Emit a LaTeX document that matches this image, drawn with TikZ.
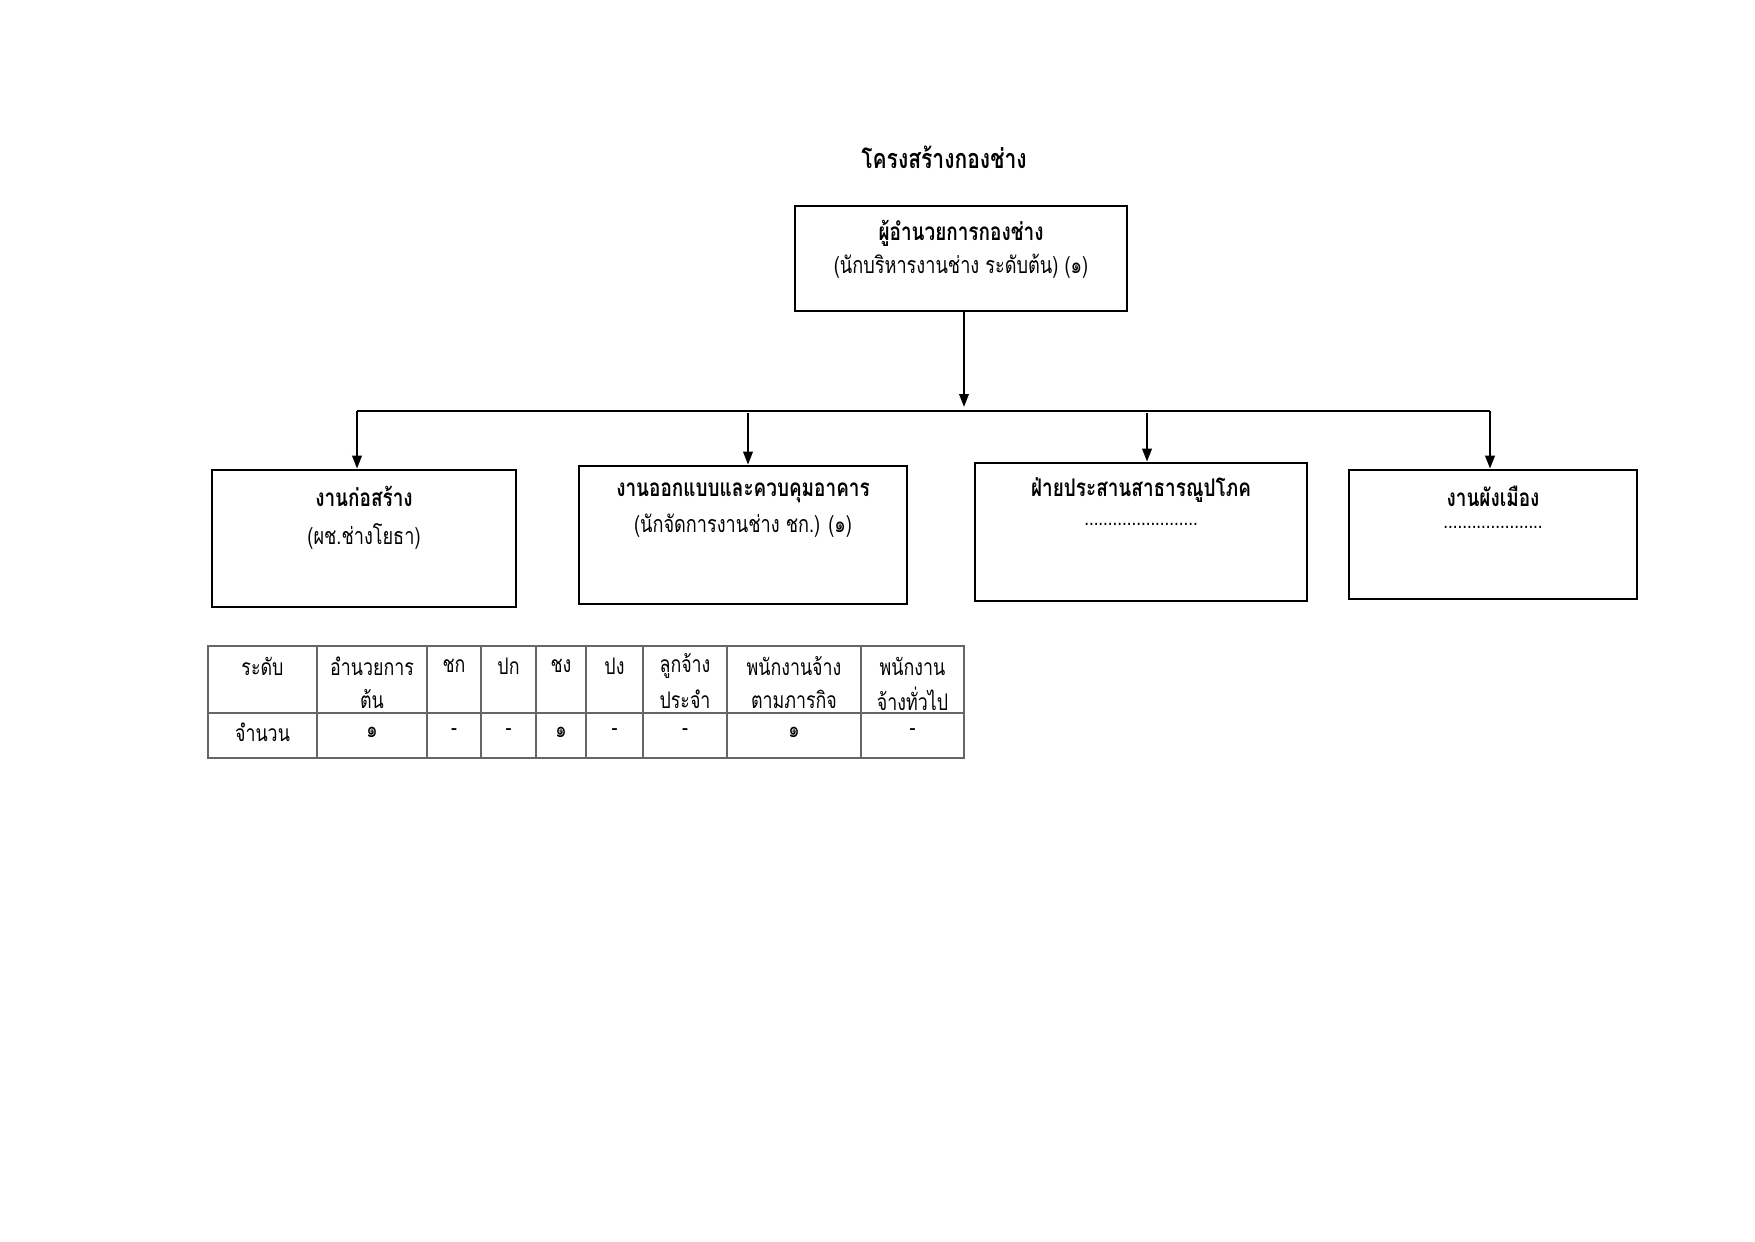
\documentclass[tikz,border=0pt]{standalone}
\usepackage{fontspec}
\setmainfont[Script=Thai,FakeStretch=0.78]{Loma}
\usetikzlibrary{arrows.meta}
\begin{document}
\begin{tikzpicture}[x=0.16923mm,y=-0.16923mm,
  box/.style={draw,line width=1.3pt,rectangle,inner sep=0pt},
  arr/.style={line width=1.1pt,-{Triangle[length=2.2mm,width=1.6mm]}},
  ln/.style={line width=1.1pt},
  ttl/.style={font=\fontsize{13}{15}\selectfont\bfseries},
  hd/.style={font=\fontsize{11.7}{14}\selectfont\bfseries},
  sb/.style={font=\fontsize{11.2}{14}\selectfont},
  dt/.style={font=\fontsize{10.5}{14}\selectfont},
  tb/.style={font=\fontsize{11}{13}\selectfont},
  grid/.style={draw=black!60,line width=0.6pt}]
\useasboundingbox (0,0) rectangle (1755,1241);
\node[ttl] (title) at (944,157) {โครงสร้างกองช่าง};
% boxes
\node[box,minimum width=332*0.16923mm,minimum height=105*0.16923mm] (top) at (961,258.5) {};
\node[box,minimum width=304*0.16923mm,minimum height=137*0.16923mm] (b1) at (364,538.5) {};
\node[box,minimum width=328*0.16923mm,minimum height=138*0.16923mm] (b2) at (743,535) {};
\node[box,minimum width=332*0.16923mm,minimum height=138*0.16923mm] (b3) at (1141,532) {};
\node[box,minimum width=288*0.16923mm,minimum height=129*0.16923mm] (b4) at (1493,534.5) {};
% texts
\node[hd] (topa) at (961,233) {ผู้อำนวยการกองช่าง};
\node[sb] (topb) at (961,266) {(นักบริหารงานช่าง ระดับต้น) (๑)};
\node[hd] (b1a) at (364,496) {งานก่อสร้าง};
\node[sb] (b1b) at (364,536) {(ผช.ช่างโยธา)};
\node[hd] (b2a) at (743,493) {งานออกแบบและควบคุมอาคาร};
\node[sb] (b2b) at (743,526) {(นักจัดการงานช่าง ชก.) (๑)};
\node[hd] (b3a) at (1141,490) {ฝ่ายประสานสาธารณูปโภค};
\node[dt] (b3b) at (1141,524) {........................};
\node[hd] (b4a) at (1493,496) {งานผังเมือง};
\node[dt] (b4b) at (1493,527) {.....................};
% connectors
\coordinate (j) at (964,407);
\coordinate (hl) at (357,411);
\coordinate (hr) at (1490,411);
\coordinate (h2) at (748,413);
\coordinate (h3) at (1147,413);
\draw[arr] (top.south -| j) -- (j);
\draw[ln] (hl) -- (hr);
\draw[arr] (hl) -- (b1.north -| hl);
\draw[arr] (h2) -- (b2.north -| h2);
\draw[arr] (h3) -- (b3.north -| h3);
\draw[arr] (hr) -- (b4.north -| hr);
% table grid
\draw[grid] (208,646) rectangle (964,758);
\draw[grid] (208,713) -- (964,713);
\foreach \cx in {317,427,481,536,586,643,727,861}{\draw[grid] (\cx,646) -- (\cx,758);}
% table texts
\node[tb] (c1) at (262.5,666) {ระดับ};
\node[tb] (c2) at (372,666) {อำนวยการ};
\node[tb] (c2b) at (372,699) {ต้น};
\node[tb] (c3) at (454,666) {ชก};
\node[tb] (c4) at (508.5,666) {ปก};
\node[tb] (c5) at (561,666) {ชง};
\node[tb] (c6) at (614.5,666) {ปง};
\node[tb] (c7) at (685,666) {ลูกจ้าง};
\node[tb] (c7b) at (685,699) {ประจำ};
\node[tb] (c8) at (794,666) {พนักงานจ้าง};
\node[tb] (c8b) at (794,699) {ตามภารกิจ};
\node[tb] (c9) at (912.5,666) {พนักงาน};
\node[tb] (c9b) at (912.5,699) {จ้างทั่วไป};
\node[tb] (d1) at (262.5,732) {จำนวน};
\node[tb] (d2) at (372,732) {๑};
\node[tb] (d3) at (454,732) {-};
\node[tb] (d4) at (508.5,732) {-};
\node[tb] (d5) at (561,732) {๑};
\node[tb] (d6) at (614.5,732) {-};
\node[tb] (d7) at (685,732) {-};
\node[tb] (d8) at (794,732) {๑};
\node[tb] (d9) at (912.5,732) {-};
\end{tikzpicture}
\end{document}
